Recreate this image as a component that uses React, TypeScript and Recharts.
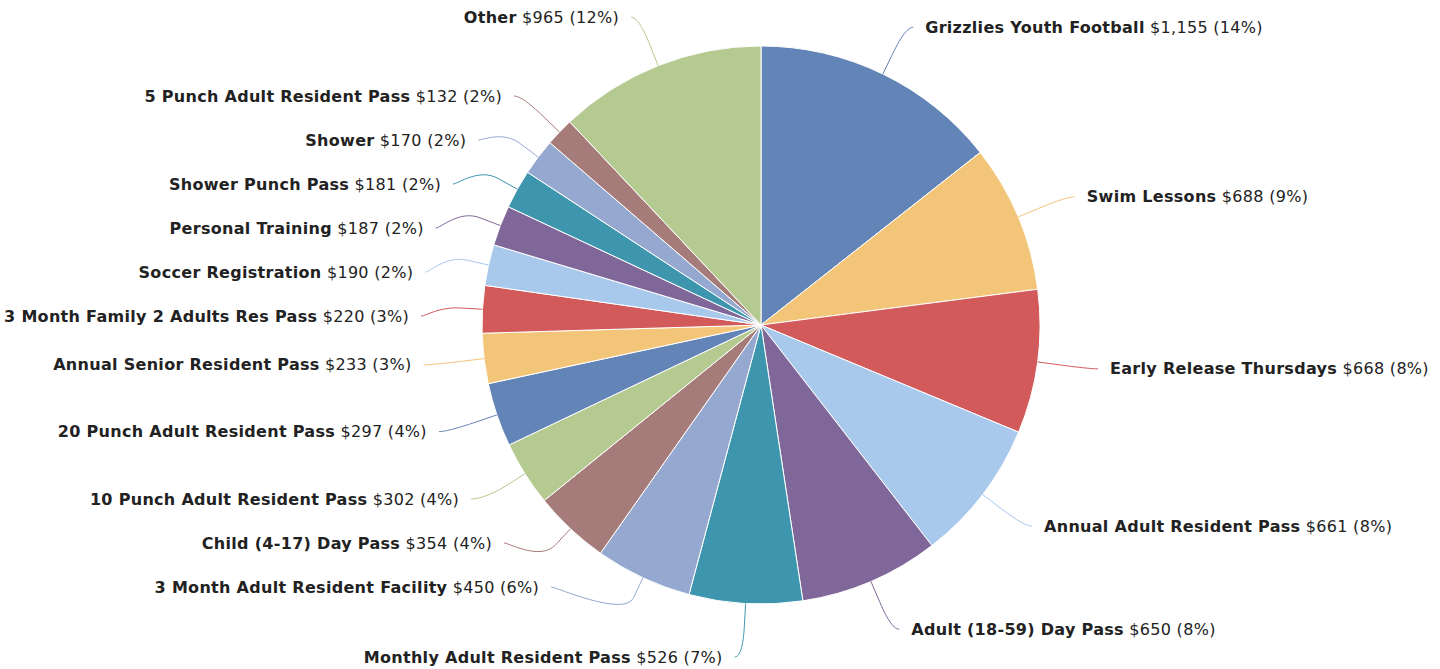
import { PieChart, Pie, Cell } from 'recharts'

const categories = [
  'Grizzlies Youth Football',
  'Swim Lessons',
  'Early Release Thursdays',
  'Annual Adult Resident Pass',
  'Adult (18-59) Day Pass',
  'Monthly Adult Resident Pass',
  '3 Month Adult Resident Facility',
  'Child (4-17) Day Pass',
  '10 Punch Adult Resident Pass',
  '20 Punch Adult Resident Pass',
  'Annual Senior Resident Pass',
  '3 Month Family 2 Adults Res Pass',
  'Soccer Registration',
  'Personal Training',
  'Shower Punch Pass',
  'Shower',
  '5 Punch Adult Resident Pass',
  'Other',
]
const amounts = [1155, 688, 668, 661, 650, 526, 450, 354, 302, 297, 233, 220, 190, 187, 181, 170, 132, 965]
const palette = ['#6384b6', '#f3c578', '#d35a5a', '#a8c8ec', '#7f6899', '#3d96ae', '#95a8d0', '#a57c79', '#b5ca90']

const CX = 761
const CY = 325
const RADIUS = 279
const LABEL_RY = 331 // where the label would sit before spreading
const ELLIPSE_RX = 340
const ELLIPSE_RY = 333
const LABEL_GAP = 44
const POLE_GAP = 70 // a label sitting right under the pie needs more room above it
const LABEL_MAX_Y = 657
const FONT = '"DejaVu Sans", sans-serif'

const total = amounts.reduce((a, b) => a + b, 0)
const data = categories.map((name, i) => ({ name, value: amounts[i] }))

type Spot = { i: number; dx: number; dy: number; left: boolean; y: number; x: number }

// spread labels on each side so they don't overlap, like the original chart does
function layoutLabels(): Spot[] {
  let acc = 0
  const spots: Spot[] = amounts.map((v, i) => {
    const mid = ((acc + v / 2) / total) * Math.PI * 2
    acc += v
    const dx = Math.sin(mid)
    const dy = -Math.cos(mid)
    return { i, dx, dy, left: dx < 0, y: CY + LABEL_RY * dy, x: 0 }
  })
  for (const left of [true, false]) {
    const side = spots.filter(s => s.left === left).sort((a, b) => a.y - b.y)
    for (let k = 1; k < side.length; k++) {
      side[k].y = Math.max(side[k].y, side[k - 1].y + LABEL_GAP)
    }
    side[side.length - 1].y = Math.min(side[side.length - 1].y, LABEL_MAX_Y)
    for (let k = side.length - 2; k >= 0; k--) {
      const below = side[k + 1]
      const gap = below.dy > 0.98 ? POLE_GAP : LABEL_GAP
      side[k].y = Math.min(side[k].y, below.y - gap)
    }
  }
  spots.forEach(s => {
    const t = Math.max(0, 1 - Math.pow((s.y - CY) / ELLIPSE_RY, 2))
    s.x = CX + (s.left ? -1 : 1) * ELLIPSE_RX * Math.sqrt(t)
  })
  return spots
}

const spots = layoutLabels()

const renderLabel = (props: any) => {
  const { index } = props
  const s = spots[index]
  const color = palette[index % palette.length]
  const tx = CX + RADIUS * s.dx
  const ty = CY + RADIUS * s.dy
  const bx = CX + (RADIUS + 22) * s.dx
  const by = CY + (RADIUS + 22) * s.dy
  const sign = s.left ? 1 : -1
  const path = `M ${s.x} ${s.y} C ${s.x + sign * 5} ${s.y} ${2 * bx - tx} ${2 * by - ty} ${bx} ${by} L ${tx} ${ty}`
  const pct = Math.round((amounts[index] / total) * 100)
  return (
    <g key={`lbl-${index}`}>
      <path d={path} stroke={color} strokeWidth={1} fill="none" />
      <text
        x={s.x - sign * 12}
        y={s.y}
        dy="0.35em"
        textAnchor={s.left ? 'end' : 'start'}
        fontFamily={FONT}
        fontSize={16}
        letterSpacing={0.3}
        fill="#222"
      >
        <tspan fontWeight="bold">{categories[index]}</tspan>
        <tspan> ${amounts[index].toLocaleString('en-US')} ({pct}%)</tspan>
      </text>
    </g>
  )
}

export default function App() {
  return (
    <div style={{ position: 'absolute', left: 0, top: 0, background: '#fff' }}>
      <PieChart width={1440} height={669} margin={{ top: 0, right: 0, bottom: 0, left: 0 }}>
        <Pie
          data={data}
          dataKey="value"
          nameKey="name"
          cx={CX}
          cy={CY}
          outerRadius={RADIUS}
          startAngle={90}
          endAngle={-270}
          stroke="#fff"
          strokeWidth={1}
          label={renderLabel}
          labelLine={false}
          isAnimationActive={false}
        >
          {data.map((d, i) => (
            <Cell key={d.name} fill={palette[i % palette.length]} />
          ))}
        </Pie>
      </PieChart>
    </div>
  )
}
